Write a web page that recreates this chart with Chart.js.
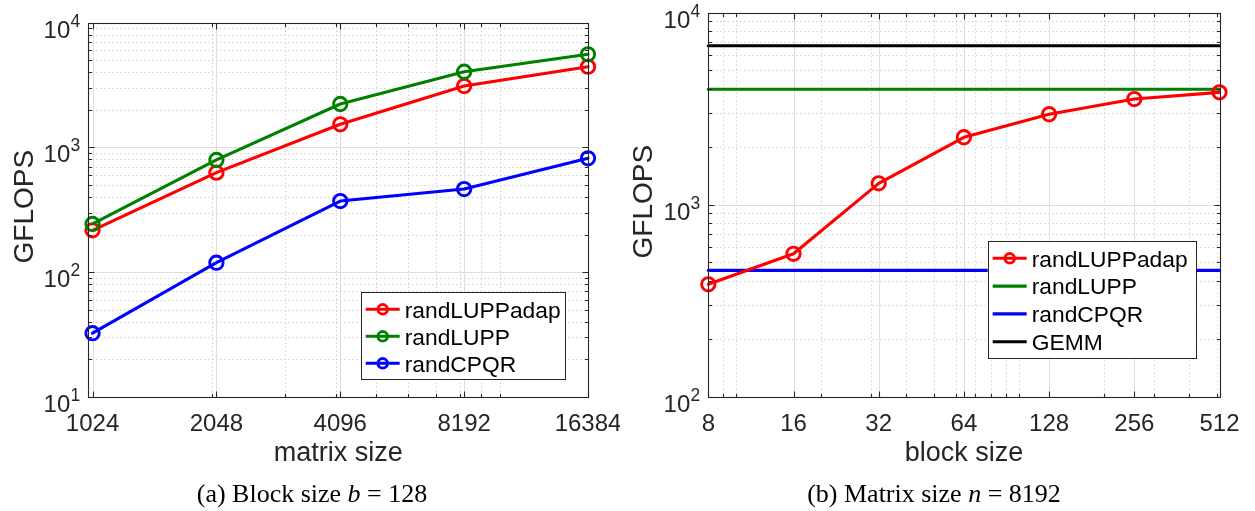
<!DOCTYPE html>
<html>
<head>
<meta charset="utf-8">
<title>GFLOPS: randLUPPadap, randLUPP, randCPQR</title>
<script src="https://cdn.jsdelivr.net/npm/chart.js@4.4.1/dist/chart.umd.min.js"></script>
<style>
  html, body { margin: 0; padding: 0; background: #fff; }
  body { width: 1255px; height: 511px; position: relative; overflow: hidden; }
  canvas { position: absolute; top: 0; }
  .caption {
    position: absolute; top: 481px; line-height: 26px;
    font-family: "Liberation Serif", "Times New Roman", serif; font-size: 26px;
    color: #000; white-space: nowrap; transform: translateX(-50%);
  }
</style>
</head>
<body>
<canvas id="chartA" width="620" height="511" style="left:0"></canvas>
<canvas id="chartB" width="635" height="511" style="left:620px"></canvas>
<div class="caption" style="left:312px">(a) Block size <i>b</i> = 128</div>
<div class="caption" style="left:934px">(b) Matrix size <i>n</i> = 8192</div>
<script>
// ---- (a) performance versus matrix size, block size b = 128 ----
const matrixSizes = [1024, 2048, 4096, 8192, 16384];
const randLUPPadapBySize = [216, 627, 1531, 3107, 4436];
const randLUPPBySize = [243, 793, 2228, 4045, 5578];
const randCPQRBySize = [32.3, 118.8, 371, 463, 817];

// ---- (b) performance versus block size, matrix size n = 8192 ----
const blockSizes = [8, 16, 32, 64, 128, 256, 512];
const randLUPPadapByBlock = [385, 555, 1292, 2245, 2958, 3550, 3847];
const randLUPPFixed = 3993;   // does not depend on the block size
const randCPQRFixed = 455;
const gemmFixed = 6730;

// y-axis tick exponents (labels 10^k)
const decadesA = [1, 2, 3, 4];
const decadesB = [2, 3, 4];

const seriesNamesA = ['randLUPPadap', 'randLUPP', 'randCPQR'];
const seriesNamesB = ['randLUPPadap', 'randLUPP', 'randCPQR', 'GEMM'];

const RED = '#ff0000', GREEN = '#008000', BLUE = '#0000ff', BLACK = '#000000';
const AXIS = '#262626';
const SANS = '"Liberation Sans", Arial, Helvetica, sans-serif';

const pairs = (xs, ys) => xs.map((x, i) => ({ x, y: ys[i] }));
const flat = (xs, v) => xs.map(x => ({ x, y: v }));

function lineSet(label, color, data, markers, order) {
  return {
    label, data, order,
    borderColor: color, borderWidth: 3.1,
    borderJoinStyle: 'round', borderCapStyle: 'round',
    pointRadius: markers ? 6.7 : 0, pointHoverRadius: markers ? 6.7 : 0,
    pointBorderWidth: 2.9, pointBorderColor: color,
    pointBackgroundColor: 'rgba(0,0,0,0)', pointStyle: 'circle',
    tension: 0, fill: false, clip: false
  };
}

// k * 10^e values strictly inside (min, max), skipping k below kStart
function logMinors(min, max, kStart) {
  const out = [];
  for (let e = Math.floor(Math.log10(min)) - 1; e <= Math.ceil(Math.log10(max)); e++) {
    for (let k = kStart; k <= 9; k++) {
      const v = k * Math.pow(10, e);
      if (v > min * 1.0001 && v < max * 0.9999) out.push(v);
    }
  }
  return out;
}

// Axes box, grids, ticks, labels and legend in the MATLAB figure style
const matlabFrame = {
  id: 'matlabFrame',
  beforeDatasetsDraw(chart, args, o) {
    const { ctx, chartArea: a, scales: { x, y } } = chart;
    const xMinor = logMinors(x.min, x.max, 1);
    const yMinor = logMinors(y.min, y.max, 2);
    const yMajor = o.decades.map(k => Math.pow(10, k));
    ctx.save();
    ctx.lineWidth = 1;
    // minor dotted grid
    ctx.strokeStyle = '#c6c6c6';
    ctx.setLineDash([1.2, 2.8]);
    ctx.beginPath();
    xMinor.forEach(v => { const p = Math.round(x.getPixelForValue(v)) + 0.5; ctx.moveTo(p, a.top); ctx.lineTo(p, a.bottom); });
    yMinor.forEach(v => { const p = Math.round(y.getPixelForValue(v)) + 0.5; ctx.moveTo(a.left, p); ctx.lineTo(a.right, p); });
    ctx.stroke();
    // major solid grid
    ctx.setLineDash([]);
    ctx.strokeStyle = '#dedede';
    ctx.beginPath();
    o.xMajor.forEach(v => { const p = Math.round(x.getPixelForValue(v)) + 0.5; ctx.moveTo(p, a.top); ctx.lineTo(p, a.bottom); });
    yMajor.forEach(v => { const p = Math.round(y.getPixelForValue(v)) + 0.5; ctx.moveTo(a.left, p); ctx.lineTo(a.right, p); });
    ctx.stroke();
    ctx.restore();
  },
  afterDatasetsDraw(chart, args, o) {
    const { ctx, chartArea: a, scales: { x, y } } = chart;
    const xMinor = logMinors(x.min, x.max, 1);
    const yMinor = logMinors(y.min, y.max, 2);
    const yMajor = o.decades.map(k => Math.pow(10, k));
    const L = Math.round(a.left) + 0.5, R = Math.round(a.right) + 0.5;
    const T = Math.round(a.top) + 0.5, B = Math.round(a.bottom) + 0.5;
    ctx.save();
    ctx.strokeStyle = AXIS;
    ctx.lineWidth = 1.1;
    ctx.setLineDash([]);
    ctx.strokeRect(L, T, R - L, B - T);
    // inward ticks on all four sides
    ctx.beginPath();
    const xt = (v, len) => { const p = Math.round(x.getPixelForValue(v)) + 0.5; ctx.moveTo(p, B); ctx.lineTo(p, B - len); ctx.moveTo(p, T); ctx.lineTo(p, T + len); };
    const yt = (v, len) => { const p = Math.round(y.getPixelForValue(v)) + 0.5; ctx.moveTo(L, p); ctx.lineTo(L + len, p); ctx.moveTo(R, p); ctx.lineTo(R - len, p); };
    o.xMajor.forEach(v => xt(v, 6));
    xMinor.forEach(v => xt(v, 3.5));
    yMajor.forEach(v => yt(v, 6));
    yMinor.forEach(v => yt(v, 3.5));
    ctx.stroke();

    // x tick labels
    ctx.fillStyle = AXIS;
    ctx.font = '24px ' + SANS;
    ctx.textAlign = 'center';
    ctx.textBaseline = 'alphabetic';
    o.xMajor.forEach((v, i) => ctx.fillText(o.xLabels[i], x.getPixelForValue(v), a.bottom + 34.5));

    // y tick labels 10^k
    o.decades.forEach(k => {
      const py = y.getPixelForValue(Math.pow(10, k));
      const sup = String(k);
      ctx.font = '24px ' + SANS;
      const wb = ctx.measureText('10').width;
      ctx.font = '17.5px ' + SANS;
      const ws = ctx.measureText(sup).width;
      const x0 = a.left - 8.3 - ws - wb;
      ctx.textAlign = 'left';
      ctx.font = '24px ' + SANS;
      ctx.fillText('10', x0, py + 15);
      ctx.font = '17.5px ' + SANS;
      ctx.fillText(sup, x0 + wb + 0.3, py + 4);
    });

    // axis titles
    ctx.font = '27px ' + SANS;
    ctx.textAlign = 'center';
    ctx.fillText(o.xTitle, (a.left + a.right) / 2, 461);
    ctx.save();
    ctx.translate(o.yTitleX, (a.top + a.bottom) / 2 - 3);
    ctx.rotate(-Math.PI / 2);
    ctx.font = '28px ' + SANS;
    ctx.fillText(o.yTitle, 0, 0);
    ctx.restore();

    // legend
    const lg = o.legend;
    ctx.fillStyle = '#ffffff';
    ctx.fillRect(lg.left, lg.top, lg.right - lg.left, lg.bottom - lg.top);
    ctx.strokeStyle = AXIS;
    ctx.lineWidth = 1;
    ctx.strokeRect(Math.round(lg.left) + 0.5, Math.round(lg.top) + 0.5,
                   Math.round(lg.right - lg.left), Math.round(lg.bottom - lg.top));
    chart.data.datasets.forEach((ds, i) => {
      const cy = lg.firstRow + i * lg.rowGap;
      const x1 = lg.left + 5, x2 = lg.left + 39;
      ctx.strokeStyle = ds.borderColor;
      ctx.lineWidth = ds.borderWidth;
      ctx.lineCap = 'butt';
      ctx.beginPath(); ctx.moveTo(x1, cy); ctx.lineTo(x2, cy); ctx.stroke();
      if (ds.pointRadius > 0) {
        ctx.lineWidth = ds.pointBorderWidth;
        ctx.beginPath(); ctx.arc((x1 + x2) / 2, cy, 4.8, 0, Math.PI * 2); ctx.stroke();
      }
      ctx.fillStyle = '#000';
      ctx.font = '22.8px ' + SANS;
      ctx.textAlign = 'left';
      ctx.fillText(ds.label, lg.left + 44, cy + 8.2);
    });
    ctx.restore();
  }
};

function makeChart(id, datasets, xRange, yRange, padding, frame) {
  return new Chart(document.getElementById(id), {
    type: 'line',
    data: { datasets },
    options: {
      responsive: false, animation: false, devicePixelRatio: 1,
      events: [],
      layout: { padding },
      scales: {
        x: { type: 'logarithmic', min: xRange[0], max: xRange[1], bounds: 'data', display: false },
        y: { type: 'logarithmic', min: yRange[0], max: yRange[1], bounds: 'data', display: false }
      },
      plugins: { legend: { display: false }, tooltip: { enabled: false }, matlabFrame: frame }
    },
    plugins: [matlabFrame]
  });
}

// (a)
makeChart('chartA', [
    lineSet(seriesNamesA[0], RED, pairs(matrixSizes, randLUPPadapBySize), true, 3),
    lineSet(seriesNamesA[1], GREEN, pairs(matrixSizes, randLUPPBySize), true, 2),
    lineSet(seriesNamesA[2], BLUE, pairs(matrixSizes, randCPQRBySize), true, 1)
  ],
  [1000, 16384], [10, 10000],
  { left: 88.3, top: 22.7, right: 32, bottom: 114.3 },
  {
    xMajor: matrixSizes, xLabels: matrixSizes.map(String), decades: decadesA,
    xTitle: 'matrix size', yTitle: 'GFLOPS', yTitleX: 33,
    legend: { left: 360.7, top: 292, right: 565, bottom: 379.3, firstRow: 309.3, rowGap: 27 }
  });

// (b)
makeChart('chartB', [
    lineSet(seriesNamesB[0], RED, pairs(blockSizes, randLUPPadapByBlock), true, 0),
    lineSet(seriesNamesB[1], GREEN, flat(blockSizes, randLUPPFixed), false, 3),
    lineSet(seriesNamesB[2], BLUE, flat(blockSizes, randCPQRFixed), false, 2),
    lineSet(seriesNamesB[3], BLACK, flat(blockSizes, gemmFixed), false, 1)
  ],
  [8, 512], [100, 10000],
  { left: 88.3, top: 12.7, right: 35.5, bottom: 114.3 },
  {
    xMajor: blockSizes, xLabels: blockSizes.map(String), decades: decadesB,
    xTitle: 'block size', yTitle: 'GFLOPS', yTitleX: 32,
    legend: { left: 367.7, top: 241, right: 576, bottom: 358.3, firstRow: 258.3, rowGap: 27.8 }
  });
</script>
</body>
</html>
